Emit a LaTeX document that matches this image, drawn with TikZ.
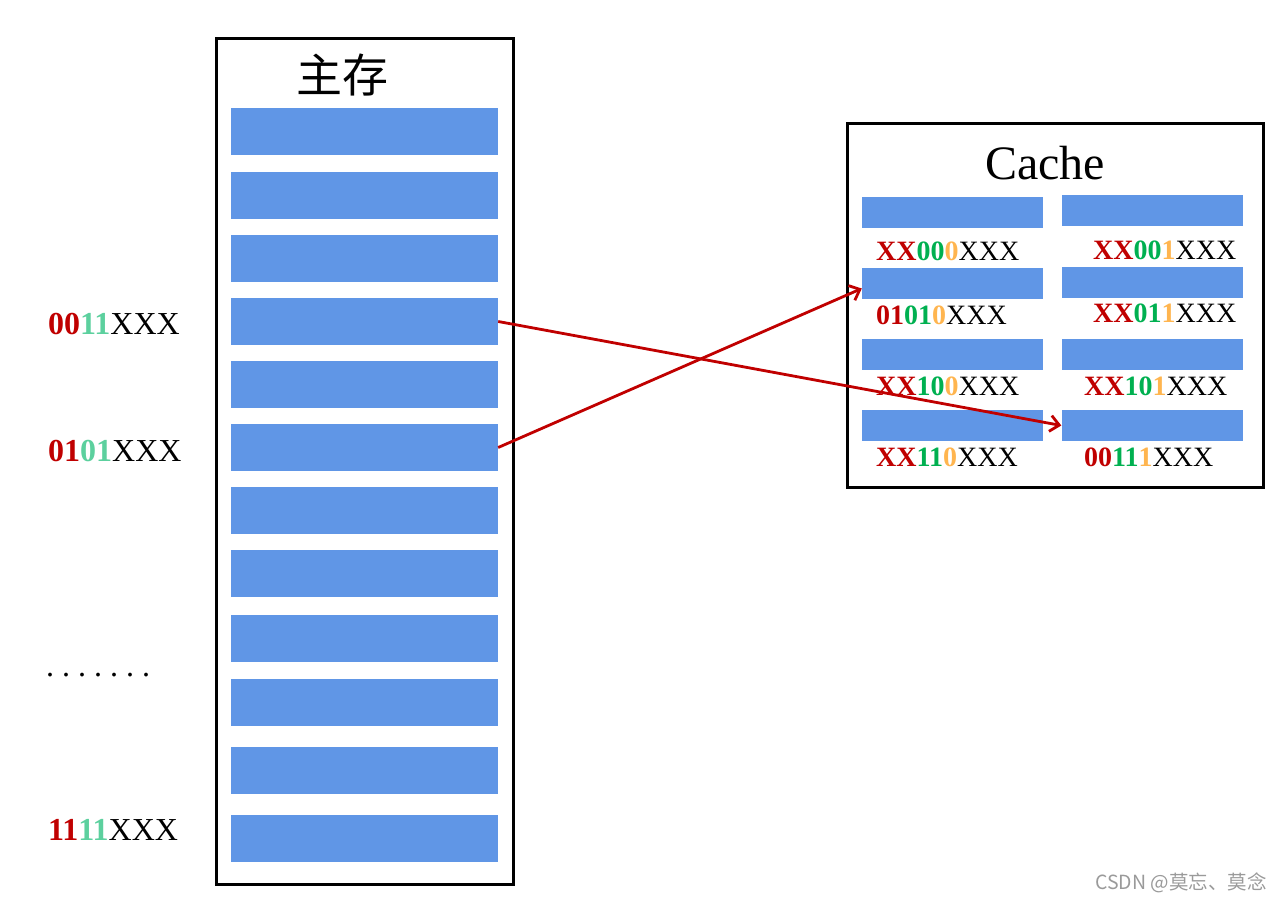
\documentclass[tikz,border=0pt]{standalone}
\usepackage{fontspec}
\setmainfont{Liberation Serif}
\newfontfamily\cjkfont{Noto Sans CJK SC}
\usetikzlibrary{arrows.meta}
\definecolor{cred}{HTML}{C00000}
\definecolor{cteal}{HTML}{5CD09E}
\definecolor{cgreen}{HTML}{00B050}
\definecolor{corange}{HTML}{FFB54F}
\definecolor{cblue}{HTML}{6096E6}
\definecolor{cwm}{HTML}{9A9A9A}
\newcommand{\rd}[1]{\textbf{\color{cred}#1}}
\newcommand{\tl}[1]{\textbf{\color{cteal}#1}}
\newcommand{\gr}[1]{\textbf{\color{cgreen}#1}}
\newcommand{\og}[1]{\textbf{\color{corange}#1}}
\begin{document}
\begin{tikzpicture}[x=1pt,y=-1pt,
  frame/.style={draw=black,line width=3pt,fill=none},
  mblk/.style={fill=cblue,draw=none,minimum width=267pt,minimum height=47pt,inner sep=0pt},
  cblk/.style={fill=cblue,draw=none,minimum width=181pt,minimum height=31pt,inner sep=0pt},
  lbl/.style={anchor=west,inner sep=0pt,font=\fontsize{32}{38}\selectfont},
  clbl/.style={anchor=west,inner sep=0pt,font=\fontsize{28}{34}\selectfont},
  arr/.style={draw=cred,line width=2.8pt,-{Straight Barb[length=9pt,width=16pt]}}
]
\useasboundingbox (0,0) rectangle (1283,902);
% main memory
\node[frame,minimum width=297pt,minimum height=846pt,inner sep=0pt] (mainbox) at (364.5,461) {};
\node[inner sep=0pt,font=\cjkfont\fontsize{46}{50}\selectfont] (maintitle) at (342,75) {主存};
\foreach \i/\y in {1/131.5,2/195.5,3/258.5,4/321.5,5/384.5,6/447.5,7/510.5,8/573.5,9/638.5,10/702.5,11/770.5,12/838.5}
  \node[mblk] (m\i) at (364.5,\y) {};
% left labels
\node[lbl] (l1) at (48,324) {\rd{00}\tl{11}XXX};
\node[lbl] (l2) at (48,451) {\rd{01}\tl{01}XXX};
\node[lbl] (l3) at (46,675) {.\hspace{8pt}.\hspace{8pt}.\hspace{8pt}.\hspace{8pt}.\hspace{8pt}.\hspace{8pt}.};
\node[lbl] (l4) at (48,830) {\rd{11}\tl{11}XXX};
% cache
\node[frame,minimum width=416pt,minimum height=364pt,inner sep=0pt] (cachebox) at (1055,305) {};
\node[inner sep=0pt,font=\fontsize{48}{54}\selectfont] (cachetitle) at (1045,163) {Cache};
\node[cblk] (c1L) at (952.5,212.5) {};
\node[cblk] (c1R) at (1152,210.5) {};
\node[cblk] (c2L) at (952.5,283.5) {};
\node[cblk] (c2R) at (1152,282.5) {};
\node[cblk] (c3L) at (952.5,354.5) {};
\node[cblk] (c3R) at (1152,354) {};
\node[cblk] (c4L) at (952.5,425.5) {};
\node[cblk] (c4R) at (1152,425.5) {};
\node[clbl] (t1L) at (876,251) {\rd{XX}\gr{00}\og{0}XXX};
\node[clbl] (t1R) at (1093,250) {\rd{XX}\gr{00}\og{1}XXX};
\node[clbl] (t2L) at (876,315) {\rd{01}\gr{01}\og{0}XXX};
\node[clbl] (t2R) at (1093,313) {\rd{XX}\gr{01}\og{1}XXX};
\node[clbl] (t3L) at (876,386) {\rd{XX}\gr{10}\og{0}XXX};
\node[clbl] (t3R) at (1084,386) {\rd{XX}\gr{10}\og{1}XXX};
\node[clbl] (t4L) at (876,457) {\rd{XX}\gr{11}\og{0}XXX};
\node[clbl] (t4R) at (1084,457) {\rd{00}\gr{11}\og{1}XXX};
% arrows
\draw[arr] (m4.east) -- (c4R.west);
\draw[arr] (m6.east) -- ([yshift=-5pt]c2L.west);
% watermark
\node[anchor=east,inner sep=0pt,text=cwm,font=\cjkfont\fontsize{19.5}{22}\selectfont] (wm) at (1267,883) {CSDN @莫忘、莫念};
\end{tikzpicture}
\end{document}
